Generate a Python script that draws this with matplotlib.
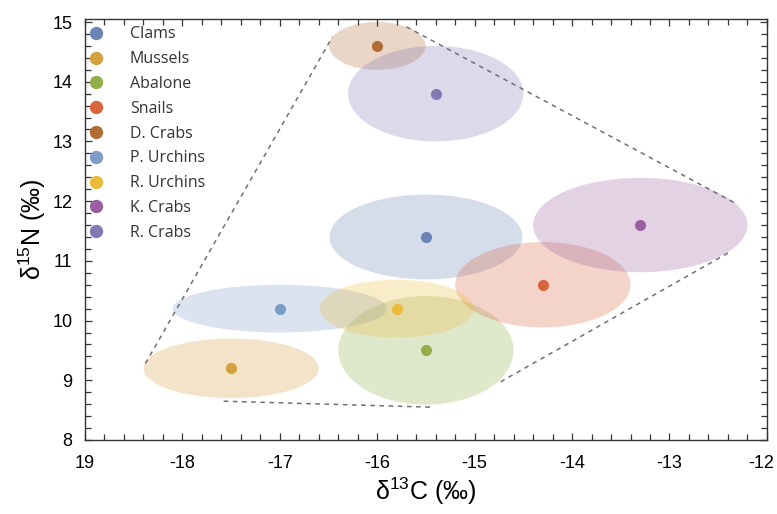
import matplotlib
matplotlib.use("Agg")
import matplotlib.pyplot as plt
import matplotlib.transforms as mtransforms
from matplotlib.patches import Ellipse
from matplotlib.ticker import MultipleLocator

plt.rcParams['font.family'] = ['Liberation Sans', 'DejaVu Sans']
plt.rcParams['mathtext.fontset'] = 'custom'
plt.rcParams['mathtext.rm'] = 'Liberation Sans'
plt.rcParams['mathtext.default'] = 'regular'

# taxa, centres and ellipse sizes (full width / height, in axis units)
taxa = ['Clams', 'Mussels', 'Abalone', 'Snails', 'D. Crabs',
        'P. Urchins', 'R. Urchins', 'K. Crabs', 'R. Crabs']
d13c = [-15.5, -17.5, -15.5, -14.3, -16.0, -17.0, -15.8, -13.3, -15.4]
d15n = [11.4, 9.2, 9.5, 10.6, 14.6, 10.2, 10.2, 11.6, 13.8]
ell_w = [1.98, 1.80, 1.80, 1.80, 0.99, 2.20, 1.58, 2.20, 1.80]
ell_h = [1.42, 1.00, 1.82, 1.43, 0.80, 0.80, 0.97, 1.58, 1.60]
colors = ['#6B84B5', '#D4A03E', '#93AE48', '#D9653E', '#B06E36',
          '#7A9CC6', '#EDBB3A', '#9A5FA0', '#8479B5']

# dashed hull segments (x0, x1), (y0, y1)
hull_x = [(-18.38, -16.46), (-15.70, -12.33), (-12.40, -14.76), (-15.46, -17.58)]
hull_y = [(9.28, 14.75), (14.92, 11.97), (11.13, 8.95), (8.55, 8.65)]

xticks = [-19, -18, -17, -16, -15, -14, -13, -12]
xtick_labels = ['19', '-18', '-17', '-16', '-15', '-14', '-13', '-12']
yticks = [8, 9, 10, 11, 12, 13, 14, 15]

fig = plt.figure(figsize=(7.77, 5.14), dpi=100)
ax = fig.add_axes([0.1094, 0.144, 0.8776, 0.819])

for i in range(len(taxa)):
    e = Ellipse((d13c[i], d15n[i]), ell_w[i], ell_h[i],
                facecolor=colors[i], edgecolor='none', alpha=0.28, zorder=1)
    ax.add_patch(e)

for xs, ys in zip(hull_x, hull_y):
    ax.plot(xs, ys, ls=(0, (3, 3)), color='#707070', lw=1.1, zorder=2)

for i in range(len(taxa)):
    ax.plot(d13c[i], d15n[i], 'o', color=colors[i], ms=8, mec='none',
            zorder=3, label=taxa[i])

ax.set_xlim(-19, -12)
ax.set_ylim(8, 15.05)
ax.set_xticks(xticks)
ax.set_xticklabels(xtick_labels)
ax.set_yticks(yticks)
ax.xaxis.set_minor_locator(MultipleLocator(0.2))
ax.yaxis.set_minor_locator(MultipleLocator(0.2))
ax.tick_params(which='both', direction='in', top=True, right=True,
               color='#333333', width=0.9)
ax.tick_params(which='major', length=5, labelsize=13)
ax.tick_params(axis='x', which='major', pad=10.5)
ax.tick_params(axis='y', which='major', pad=9)
ax.tick_params(which='minor', length=4)
for s in ax.spines.values():
    s.set_color('#333333')
    s.set_linewidth(1.0)

# nudge the last x label so it stays inside the figure
last = ax.get_xticklabels()[-1]
last.set_transform(last.get_transform() +
                   mtransforms.ScaledTranslation(-4 / 72, 0, fig.dpi_scale_trans))

ax.set_xlabel(r'δ$^{13}$C (‰)', fontsize=18, labelpad=3)
ax.set_ylabel(r'δ$^{15}$N (‰)', fontsize=18, labelpad=3)

leg = ax.legend(loc='upper left', frameon=False, numpoints=1, markerscale=1.2,
                prop={'family': 'Open Sans', 'size': 11.5},
                handlelength=1.0, handletextpad=1.6, labelspacing=0.55,
                borderpad=0.2, bbox_to_anchor=(0.0, 0.99), borderaxespad=0.0)
for t in leg.get_texts():
    t.set_color('#333333')

fig.savefig('out.png', dpi=100)
